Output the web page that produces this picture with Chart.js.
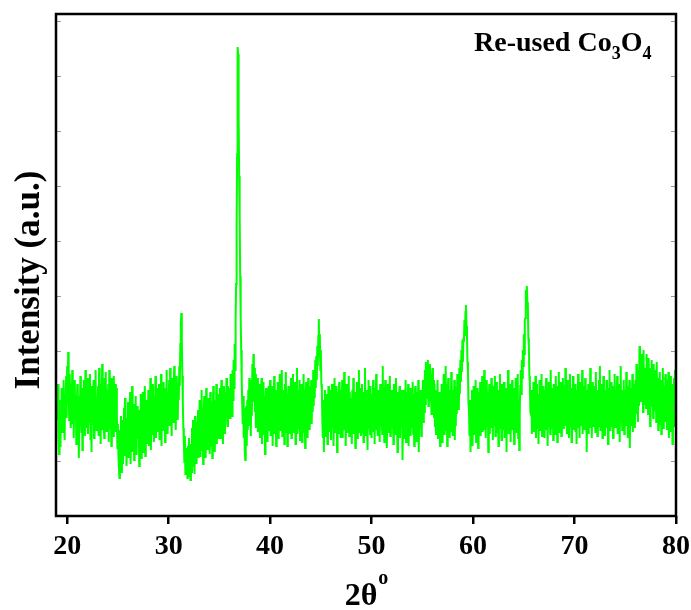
<!DOCTYPE html>
<html><head><meta charset="utf-8">
<script src="https://cdn.jsdelivr.net/npm/chart.js@4/dist/chart.umd.min.js"></script>
<style>html,body{margin:0;padding:0;background:#fff}#wrap{width:691px;height:610px}</style>
</head><body><div id="wrap"><canvas id="c" width="691" height="610"></canvas></div>
<script>
// scan: 2θ from 19.00° to 80.00° in 0.05° steps
const xStart = 19.0;
const xStep = 0.05;
const xTicks = [20, 30, 40, 50, 60, 70, 80];
const yMinorTicks = [55, 110, 165, 220, 275, 330, 385, 440, 495];
const intensity = [
124,96,132,80,62,104,70,116,92,128,84,118,102,136,94,76,122,108,140,98,
150,112,164,128,96,142,118,88,132,106,146,92,124,78,114,136,98,120,72,110,
132,74,120,58,104,90,140,112,84,128,66,118,96,136,104,80,146,94,126,88,
138,82,110,126,94,142,76,118,64,130,100,92,136,78,122,108,146,86,112,96,
104,130,80,148,96,116,72,132,108,152,86,120,98,78,138,92,144,106,84,126,
96,132,74,146,110,88,124,70,138,102,118,80,140,92,116,132,84,128,100,68,
92,62,48,38,86,56,100,44,72,96,52,84,108,60,118,74,98,50,86,66,
114,58,92,74,124,52,96,80,130,64,88,112,56,100,70,120,62,94,82,110,
78,106,50,100,68,122,58,88,76,124,64,104,84,130,60,96,116,72,108,90,
126,70,112,88,138,66,104,120,82,132,96,74,118,100,140,78,110,92,128,84,
100,132,76,118,92,142,70,124,106,86,134,96,112,74,128,88,146,104,82,120,
108,136,90,148,98,124,80,138,112,94,130,150,104,126,86,140,118,134,96,128,
116,150,130,172,192,203,176,140,112,88,74,54,80,42,68,46,60,38,70,48,
78,40,62,36,72,44,88,50,96,58,80,42,100,64,74,52,94,68,106,58,
92,116,60,100,72,126,66,108,52,96,120,70,104,58,128,80,110,66,118,84,
110,62,124,90,70,114,58,100,130,76,116,64,104,86,132,72,112,96,78,122,
92,128,78,116,136,86,120,72,108,130,96,82,124,100,138,106,90,130,112,122,
128,98,142,108,134,100,146,116,156,128,172,146,194,232,292,362,469,462,400,340,
300,240,198,166,136,112,92,120,78,108,66,56,92,110,70,116,86,126,96,138,
90,124,80,136,100,152,114,162,126,148,104,142,88,130,102,138,84,122,94,132,
78,126,92,138,72,116,96,134,82,120,62,108,128,88,124,74,116,130,86,112,
136,80,120,94,130,70,116,90,140,82,126,100,70,122,92,134,78,118,96,142,
86,124,98,146,80,126,90,118,72,132,96,144,84,120,70,114,130,90,124,82,
116,138,78,126,92,142,84,118,98,134,72,122,94,148,82,126,100,88,136,76,
124,88,132,74,118,96,142,84,126,68,114,134,90,122,78,138,94,118,86,130,
98,136,92,128,104,146,110,140,118,156,128,160,136,170,150,180,197,160,182,146,
166,132,126,94,78,116,64,102,126,80,114,86,122,72,110,130,84,118,90,126,
76,116,132,88,122,70,110,138,84,118,94,130,64,114,124,82,134,90,120,78,
126,90,136,78,116,94,144,86,122,70,110,132,84,118,92,140,80,124,98,86,
118,72,126,90,138,82,112,124,68,116,90,134,78,120,94,146,84,114,128,80,
92,132,84,120,74,124,98,148,80,126,90,118,66,112,136,88,122,82,130,94,
78,122,94,136,84,116,72,128,98,142,86,120,80,126,94,114,74,132,90,124,
98,82,150,90,128,74,118,136,86,124,68,114,132,84,122,94,140,80,118,92,
126,88,114,72,132,94,120,82,138,90,112,64,124,86,116,130,78,110,126,90,
114,56,104,126,78,118,90,136,74,110,124,84,132,70,116,94,128,80,120,88,
96,134,82,122,70,112,130,86,116,74,124,92,136,64,110,118,88,126,80,114,
110,136,94,130,104,146,112,154,124,138,118,156,110,146,122,152,116,132,102,138,
148,112,136,98,132,90,126,82,120,94,136,78,114,90,124,70,110,84,132,74,
118,92,142,82,124,98,150,86,132,70,116,138,88,126,78,122,94,144,84,114,
80,126,94,136,76,120,90,130,102,142,112,136,106,148,122,156,134,166,144,176,
154,178,174,196,180,204,211,190,180,154,144,112,106,80,116,64,102,78,126,70,
114,130,82,118,90,136,74,122,94,128,68,112,124,86,134,80,116,92,140,84,
122,94,146,86,126,78,118,136,90,124,64,110,132,82,120,94,138,88,116,76,
130,90,116,140,80,124,94,134,84,118,70,126,98,142,88,114,76,132,94,122,
86,134,78,116,92,128,64,120,98,146,82,124,90,132,74,118,94,136,86,126,
98,72,128,90,138,84,122,94,142,78,116,66,102,130,146,122,156,138,166,150,
182,162,196,198,226,208,230,214,212,178,170,140,132,104,102,126,82,118,94,134,
84,124,94,140,78,116,132,88,122,72,110,136,86,126,94,142,80,118,92,130,
114,78,126,94,138,86,122,70,116,134,90,124,82,146,98,128,88,118,76,132,
94,126,82,140,100,122,74,130,92,144,84,118,98,134,80,124,94,138,88,120,
130,90,148,102,122,82,136,94,126,78,118,142,90,128,74,116,98,140,86,124,
100,132,84,120,72,126,94,142,88,118,78,134,98,124,90,146,82,122,94,130,
86,138,98,126,64,116,92,132,82,122,96,148,88,126,78,116,134,90,120,94,
130,84,144,96,126,80,120,90,136,102,150,86,124,94,132,78,118,140,92,126,
80,122,94,136,88,128,72,116,98,146,86,124,102,134,90,118,78,130,94,142,
116,88,126,96,140,82,122,92,132,74,114,150,94,126,86,122,98,136,82,118,
126,90,144,100,122,78,130,94,136,68,116,90,128,98,142,84,120,94,132,88,
136,102,152,112,130,94,146,110,170,124,156,114,162,122,154,104,166,118,148,112,
144,108,162,120,150,102,158,114,142,90,148,110,156,118,140,98,152,106,134,112,
146,94,154,110,138,86,130,104,144,92,126,82,136,100,148,88,122,130,94,142,
102,136,86,128,104,144,78,124,94,140,84,120,132,72,118,98,138,90,146,114,
128
];

const points = intensity.map((v, i) => ({ x: +(xStart + i * xStep).toFixed(2), y: v }));
const SERIF = '"Liberation Serif", "Times New Roman", serif';

const decor = {
  id: 'decor',
  afterDatasetsDraw(chart) {
    const { ctx, chartArea: a, scales } = chart;
    ctx.save();
    ctx.strokeStyle = '#999';
    ctx.lineWidth = 1;
    yMinorTicks.forEach(v => {
      const py = Math.round(scales.y.getPixelForValue(v)) + 0.5;
      ctx.beginPath();
      ctx.moveTo(a.left, py); ctx.lineTo(a.left + 5, py);
      ctx.moveTo(a.right, py); ctx.lineTo(a.right - 5, py);
      ctx.stroke();
    });
    ctx.strokeStyle = '#000';
    ctx.lineWidth = 2.5;
    ctx.strokeRect(a.left, a.top, a.right - a.left, a.bottom - a.top);

    ctx.fillStyle = '#000';
    ctx.save();
    ctx.translate(30, (a.top + a.bottom) / 2 + 15);
    ctx.rotate(-Math.PI / 2);
    ctx.font = 'bold 35px ' + SERIF;
    ctx.textAlign = 'center';
    ctx.textBaseline = 'middle';
    ctx.fillText('Intensity (a.u.)', 0, 0);
    ctx.restore();

    ctx.textBaseline = 'alphabetic';
    ctx.textAlign = 'left';
    ctx.font = 'bold 32px ' + SERIF;
    const main = '2\u03B8';
    const wMain = ctx.measureText(main).width;
    ctx.font = 'bold 20px ' + SERIF;
    const wSup = ctx.measureText('o').width;
    const cx = (a.left + a.right) / 2;
    const x0 = cx - (wMain + wSup) / 2;
    ctx.font = 'bold 32px ' + SERIF;
    ctx.fillText(main, x0, 605);
    ctx.font = 'bold 20px ' + SERIF;
    ctx.fillText('o', x0 + wMain + 1, 584);

    let x = 474;
    const base = 51;
    const parts = [['Re-used Co', 28, 0], ['3', 18, 8], ['O', 28, 0], ['4', 18, 8]];
    parts.forEach(([t, s, dy]) => {
      ctx.font = 'bold ' + s + 'px ' + SERIF;
      ctx.fillText(t, x, base + dy);
      x += ctx.measureText(t).width;
    });
    ctx.restore();
  }
};

new Chart(document.getElementById('c').getContext('2d'), {
  type: 'line',
  data: { datasets: [{ data: points, borderColor: '#00ff00', borderWidth: 2, pointRadius: 0, tension: 0, fill: false }] },
  options: {
    responsive: false,
    animation: false,
    parsing: false,
    plugins: { legend: { display: false }, tooltip: { enabled: false } },
    layout: { padding: { top: 14, right: 15, left: 0, bottom: 0 } },
    scales: {
      x: {
        type: 'linear', min: 18.9, max: 80,
        afterBuildTicks: s => { s.ticks = xTicks.map(v => ({ value: v })); },
        afterFit: s => { s.height = 94; s.paddingLeft = 0; s.paddingRight = 0; },
        grid: { drawOnChartArea: false, drawTicks: true, tickLength: 8, color: '#000', lineWidth: 2.5 },
        border: { display: false },
        ticks: { color: '#000', font: { family: SERIF, weight: 'bold', size: 28 }, padding: 6, maxRotation: 0, autoSkip: false }
      },
      y: {
        min: 0, max: 502,
        afterFit: s => { s.width = 56; },
        ticks: { display: false },
        grid: { display: false },
        border: { display: false }
      }
    }
  },
  plugins: [decor]
});
</script>
</body></html>
